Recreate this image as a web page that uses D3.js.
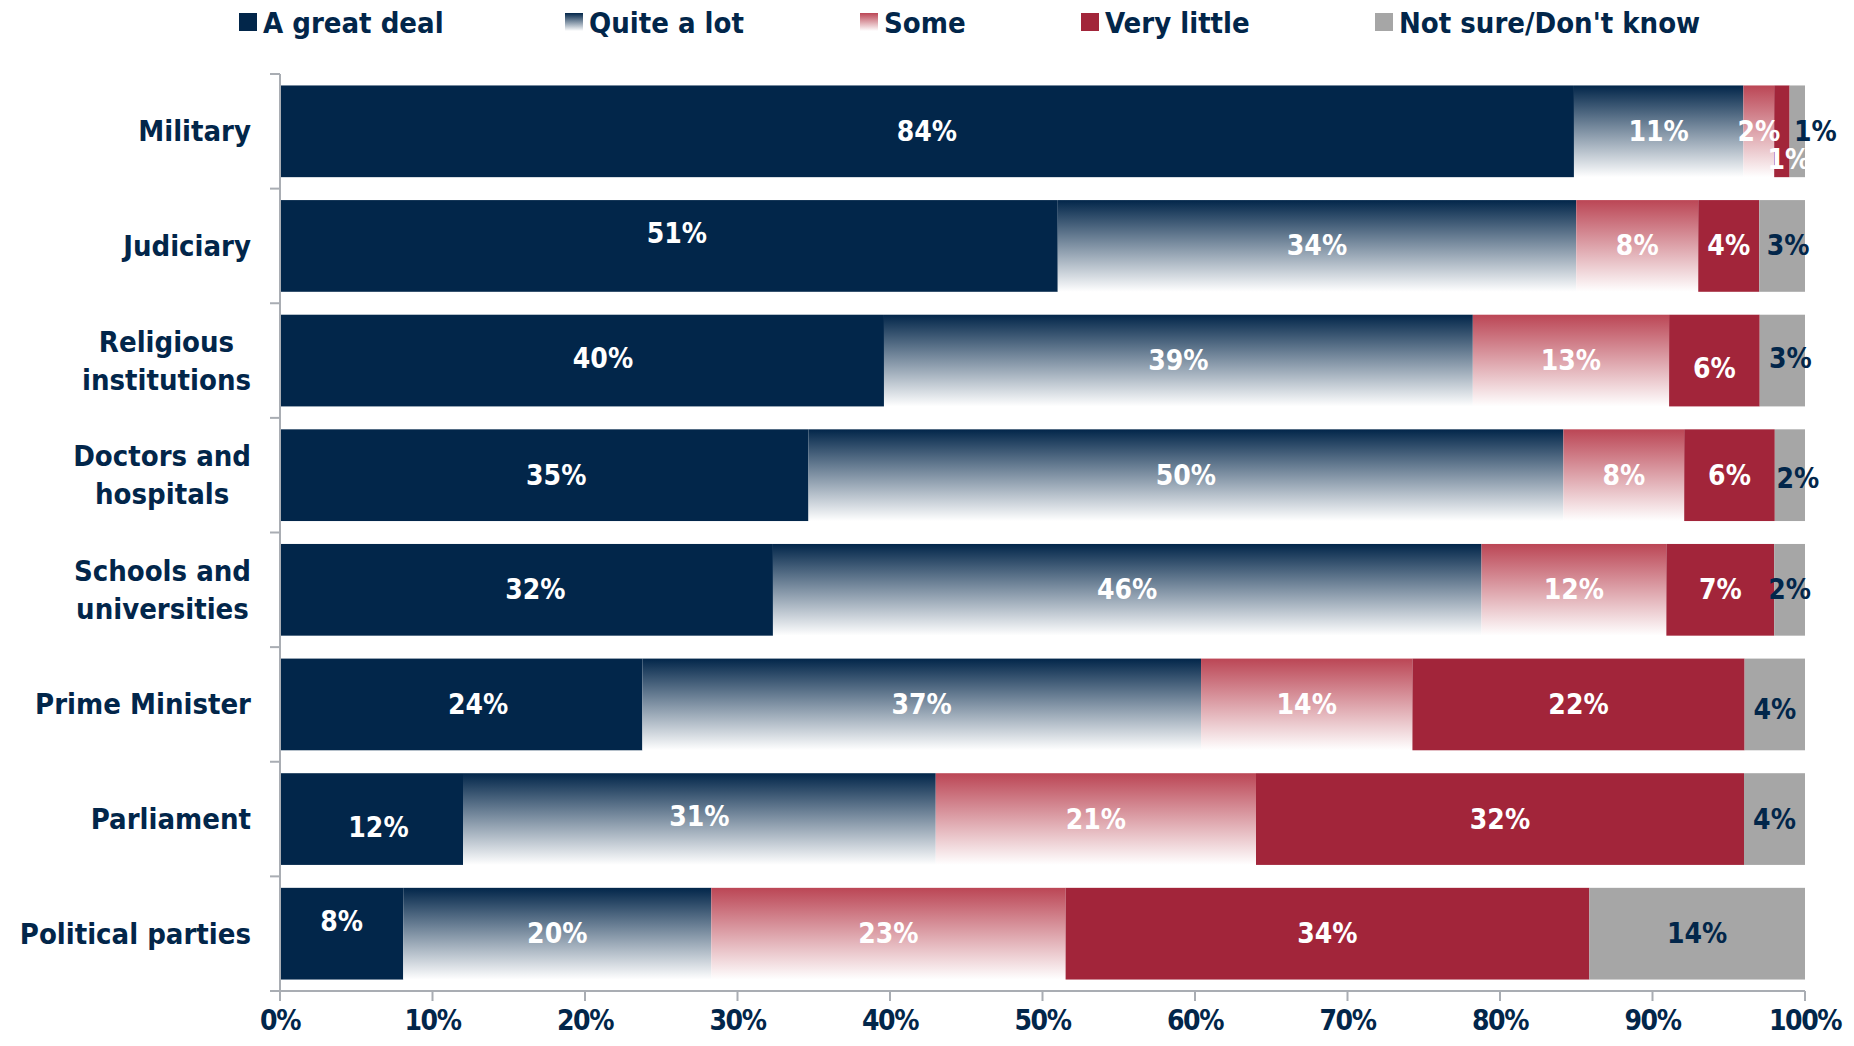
<!DOCTYPE html>
<html>
<head>
<meta charset="utf-8">
<script src="https://cdn.jsdelivr.net/npm/d3@7"></script>
<style>
  html, body { margin: 0; padding: 0; background: #fff; }
  svg { display: block; font-family: "DejaVu Sans Condensed", "DejaVu Sans", sans-serif; font-weight: bold; }
</style>
</head>
<body>
<svg id="chart" width="1854" height="1046"></svg>
<script>
const categories = ["Military", "Judiciary", "Religious\ninstitutions", "Doctors and\nhospitals",
    "Schools and\nuniversities", "Prime Minister", "Parliament", "Political parties"];
const seriesNames = ["A great deal", "Quite a lot", "Some", "Very little", "Not sure/Don't know"];

const greatDeal  = [84, 51, 40, 35, 32, 24, 12, 8];
const quiteALot  = [11, 34, 39, 50, 46, 37, 31, 20];
const some       = [2, 8, 13, 8, 12, 14, 21, 23];
const veryLittle = [1, 4, 6, 6, 7, 22, 32, 34];
const notSure    = [1, 3, 3, 2, 2, 4, 4, 14];

const tickValues = [0, 0.1, 0.2, 0.3, 0.4, 0.5, 0.6, 0.7, 0.8, 0.9, 1];
const tickLabels = ["0%", "10%", "20%", "30%", "40%", "50%", "60%", "70%", "80%", "90%", "100%"];

document.addEventListener("DOMContentLoaded", () => {
    const navy = "#02264a", red = "#a2253a", grey = "#a6a6a6", axisGrey = "#a9adb3";
    const fills = [navy, "url(#gradBlue)", "url(#gradRed)", red, grey];
    const labelColors = ["#fff", "#fff", "#fff", "#fff", navy];

    // hand-placed labels in the original (dx, dy)
    const nudge = {
        "0-3": [7, 28], "0-4": [18, 0],
        "1-0": [8, -12], "1-4": [6, 0],
        "2-0": [21, -2], "2-3": [0, 8], "2-4": [8, -2],
        "3-0": [12, 0], "3-4": [8, 3],
        "4-0": [9, 0],
        "5-0": [17, 0], "5-4": [0, 5],
        "6-0": [7, 8], "6-1": [0, -3],
        "7-0": [0, -12]
    };

    const rows = categories.map((c, i) => ({
        category: c,
        [seriesNames[0]]: greatDeal[i],
        [seriesNames[1]]: quiteALot[i],
        [seriesNames[2]]: some[i],
        [seriesNames[3]]: veryLittle[i],
        [seriesNames[4]]: notSure[i]
    }));

    const svg = d3.select("#chart");
    const defs = svg.append("defs");

    function gradient(id, top) {
        const g = defs.append("linearGradient").attr("id", id)
            .attr("x1", 0).attr("y1", 0).attr("x2", 0).attr("y2", 1);
        g.append("stop").attr("offset", "0%").attr("stop-color", top);
        g.append("stop").attr("offset", "100%").attr("stop-color", "#ffffff");
    }
    gradient("gradBlue", navy);
    gradient("gradRed", "#bb4655");

    const left = 280, right = 1805, top = 74, bottom = 991;

    const x = d3.scaleLinear().domain([0, 1]).range([left, right]);
    const y = d3.scaleBand().domain(categories).range([top, bottom])
        .paddingInner(0.2).paddingOuter(0.1);

    const stacked = d3.stack().keys(seriesNames).offset(d3.stackOffsetExpand)(rows);

    // bars
    const layers = svg.append("g").selectAll("g")
        .data(stacked)
        .enter()
        .append("g")
        .attr("fill", (d, i) => fills[i]);

    layers.selectAll("rect")
        .data(d => d)
        .enter()
        .append("rect")
        .attr("x", d => x(d[0]))
        .attr("y", d => y(d.data.category))
        .attr("width", d => x(d[1]) - x(d[0]))
        .attr("height", y.bandwidth());

    // value labels
    stacked.forEach((layer, si) => {
        svg.append("g").selectAll("text")
            .data(layer)
            .enter()
            .append("text")
            .attr("x", (d, ci) => (x(d[0]) + x(d[1])) / 2 + (nudge[ci + "-" + si] || [0, 0])[0])
            .attr("y", (d, ci) => y(d.data.category) + y.bandwidth() / 2 + (nudge[ci + "-" + si] || [0, 0])[1])
            .attr("text-anchor", "middle")
            .attr("dominant-baseline", "central")
            .attr("font-size", "28px")
            .attr("fill", labelColors[si])
            .text(d => d.data[layer.key] + "%");
    });

    // left axis
    const axisG = svg.append("g").attr("stroke", axisGrey).attr("stroke-width", 2);
    axisG.append("line").attr("x1", left).attr("x2", left).attr("y1", top).attr("y2", bottom);
    d3.range(categories.length + 1).forEach(i => {
        const yy = top + i * y.step();
        axisG.append("line").attr("x1", left - 10).attr("x2", left).attr("y1", yy).attr("y2", yy);
    });

    // bottom axis
    axisG.append("line").attr("x1", left - 10).attr("x2", right).attr("y1", bottom).attr("y2", bottom);
    axisG.selectAll(".xt")
        .data(tickValues)
        .enter()
        .append("line")
        .attr("x1", d => x(d)).attr("x2", d => x(d))
        .attr("y1", bottom).attr("y2", bottom + 10);

    svg.append("g").selectAll("text")
        .data(tickValues)
        .enter()
        .append("text")
        .attr("x", d => x(d))
        .attr("y", 1020)
        .attr("text-anchor", "middle")
        .attr("dominant-baseline", "central")
        .attr("font-size", "28px")
        .attr("letter-spacing", "-1.5px")
        .attr("fill", navy)
        .text((d, i) => tickLabels[i]);

    // category labels: block right aligned, lines centred on each other
    const labelRight = 251;
    categories.forEach(c => {
        const lines = c.split("\n");
        const cy = y(c) + y.bandwidth() / 2;
        const g = svg.append("g");
        const texts = lines.map((line, li) => g.append("text")
            .attr("y", cy + (li - (lines.length - 1) / 2) * 38)
            .attr("dominant-baseline", "central")
            .attr("text-anchor", "middle")
            .attr("font-size", "29px")
            .attr("fill", navy)
            .text(line));
        const w = d3.max(texts, t => t.node().getComputedTextLength());
        texts.forEach(t => t.attr("x", labelRight - w / 2));
    });

    // legend
    const legendX = [239, 565, 860, 1081, 1375];
    const legend = svg.append("g").selectAll("g")
        .data(seriesNames)
        .enter()
        .append("g")
        .attr("transform", (d, i) => `translate(${legendX[i]},22)`);

    legend.append("rect")
        .attr("x", 0).attr("y", -9)
        .attr("width", 18).attr("height", 18)
        .attr("fill", (d, i) => fills[i]);

    legend.append("text")
        .attr("x", 24)
        .attr("y", 1)
        .attr("dominant-baseline", "central")
        .attr("font-size", "29px")
        .attr("fill", navy)
        .text(d => d);
});
</script>
</body>
</html>
